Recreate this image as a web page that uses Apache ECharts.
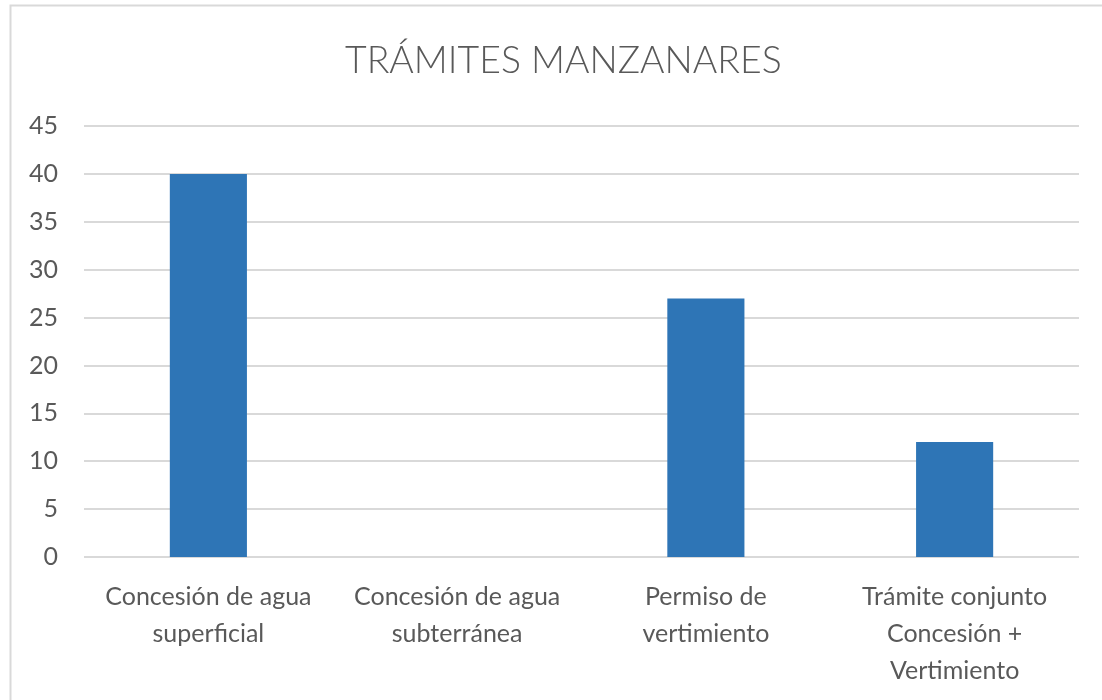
<!DOCTYPE html>
<html><head><meta charset="utf-8">
<script src="https://cdn.jsdelivr.net/npm/echarts@6/dist/echarts.min.js"></script>
<style>html,body{margin:0;padding:0;background:#fff}#c{width:1102px;height:700px}</style>
</head><body><div id="c"></div>
<script>
const title = "TRÁMITES MANZANARES";
const categories = ["Concesión de agua\nsuperficial", "Concesión de agua\nsubterránea", "Permiso de\nvertimiento", "Trámite conjunto\nConcesión +\nVertimiento"];
const values = [40, 0, 27, 12];
const yMin = 0, yMax = 45, yStep = 5;

const chart = echarts.init(document.getElementById('c'), null, {renderer: 'canvas'});
chart.setOption({
  animation: false,
  backgroundColor: '#fff',
  graphic: [{type: 'rect', shape: {x: 10.5, y: 5.5, width: 1200, height: 800}, style: {fill: 'none', stroke: '#d9d9d9', lineWidth: 2}, silent: true}],
  title: {text: title, left: 340, top: 37, textStyle: {fontFamily: 'Lato', fontWeight: 300, fontSize: 37.4, color: '#595959'}},
  grid: {left: 84, right: 23, top: 126, bottom: 143, containLabel: false},
  xAxis: {type: 'category', data: categories,
    axisLine: {show: false}, axisTick: {show: false},
    axisLabel: {interval: 0, margin: 21, fontFamily: 'Lato', fontSize: 25, color: '#595959', lineHeight: 37, align: 'center'}},
  yAxis: {type: 'value', min: yMin, max: yMax, interval: yStep,
    axisLine: {show: false}, axisTick: {show: false},
    axisLabel: {margin: 26, fontFamily: 'Lato', fontSize: 25, color: '#595959'},
    splitLine: {lineStyle: {color: '#d9d9d9', width: 2}}},
  series: [{type: 'bar', data: values, barWidth: '31%', itemStyle: {color: '#2e75b6'}}]
});
</script></body></html>
